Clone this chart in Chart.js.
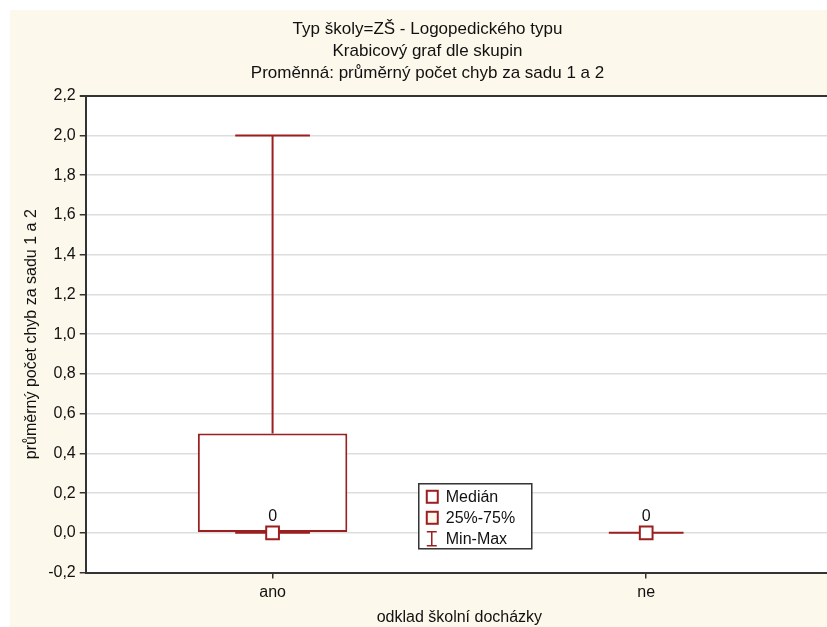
<!DOCTYPE html>
<html>
<head>
<meta charset="utf-8">
<script src="https://cdn.jsdelivr.net/npm/chart.js@4/dist/chart.umd.min.js"></script>
<style>
  html, body { margin: 0; padding: 0; background: #fff; overflow: hidden; }
  #wrap { position: absolute; left: 10px; top: 10px; width: 834px; height: 617px; }
</style>
</head>
<body>
<div id="wrap"><canvas id="box" width="834" height="617"></canvas></div>
<script>
// data
const categories = ['ano', 'ne'];
const q1Values = [0, 0];
const q3Values = [0.5, 0];
const minValues = [0, 0];
const maxValues = [2.0, 0];
const medianValues = [0, 0];
const yTicks = [-0.2, 0, 0.2, 0.4, 0.6, 0.8, 1.0, 1.2, 1.4, 1.6, 1.8, 2.0, 2.2];

const RED = '#9b1f1f';
const CREAM = '#fdf8ec';
const FONT = 'Liberation Sans, Arial, sans-serif';

function fmt(v) {
    return v.toFixed(1).replace('.', ',');
}

// background: cream canvas, white plot area
const backgroundPlugin = {
    id: 'bg',
    beforeDraw(chart) {
        const ctx = chart.ctx;
        const a = chart.chartArea;
        ctx.save();
        ctx.fillStyle = CREAM;
        ctx.fillRect(0, 0, chart.width, chart.height);
        ctx.fillStyle = '#fff';
        ctx.fillRect(a.left, a.top, a.right - a.left, a.bottom - a.top);
        ctx.restore();
    }
};

// whiskers, caps, median labels and the legend box
const boxExtras = {
    id: 'boxExtras',
    beforeDatasetsDraw(chart) {
        const ctx = chart.ctx;
        const x = chart.scales.x, y = chart.scales.y;
        const capHalf = x.width / 2 * 0.1;
        ctx.save();
        ctx.strokeStyle = RED;
        ctx.lineWidth = 2;
        categories.forEach(function(c, i) {
            const cx = x.getPixelForValue(i);
            ctx.beginPath();
            ctx.moveTo(cx, y.getPixelForValue(q3Values[i]));
            ctx.lineTo(cx, y.getPixelForValue(maxValues[i]));
            ctx.moveTo(cx, y.getPixelForValue(q1Values[i]));
            ctx.lineTo(cx, y.getPixelForValue(minValues[i]));
            ctx.moveTo(cx - capHalf, y.getPixelForValue(maxValues[i]));
            ctx.lineTo(cx + capHalf, y.getPixelForValue(maxValues[i]));
            ctx.moveTo(cx - capHalf, y.getPixelForValue(minValues[i]));
            ctx.lineTo(cx + capHalf, y.getPixelForValue(minValues[i]));
            ctx.stroke();
        });
        ctx.restore();
    },
    afterDraw(chart) {
        const ctx = chart.ctx;
        const x = chart.scales.x, y = chart.scales.y;
        const a = chart.chartArea;
        ctx.save();
        // median value labels
        ctx.fillStyle = '#111';
        ctx.font = '16px ' + FONT;
        ctx.textAlign = 'center';
        ctx.textBaseline = 'middle';
        categories.forEach(function(c, i) {
            ctx.fillText(String(medianValues[i]), x.getPixelForValue(i), y.getPixelForValue(medianValues[i]) - 16);
        });

        // legend
        const lx = a.left + 333, ly = a.top + 388, lw = 113, lh = 65;
        ctx.fillStyle = '#fff';
        ctx.fillRect(lx, ly, lw, lh);
        ctx.strokeStyle = '#333';
        ctx.lineWidth = 1.5;
        ctx.strokeRect(lx, ly, lw, lh);

        const labels = ['Medián', '25%-75%', 'Min-Max'];
        ctx.textAlign = 'left';
        ctx.fillStyle = '#111';
        labels.forEach(function(t, k) {
            const my = ly + 13 + k * 21;
            const mx = lx + 13;
            ctx.strokeStyle = RED;
            ctx.lineWidth = 2;
            if (k === 0 || k === 1) {
                ctx.fillStyle = k === 0 ? '#fff' : CREAM;
                ctx.fillRect(mx - 5, my - 6, 11, 12);
                ctx.strokeRect(mx - 5, my - 6, 11, 12);
            } else {
                ctx.lineWidth = 1.5;
                ctx.beginPath();
                ctx.moveTo(mx - 5, my - 7); ctx.lineTo(mx + 5, my - 7);
                ctx.moveTo(mx, my - 7); ctx.lineTo(mx, my + 7);
                ctx.moveTo(mx - 5, my + 7); ctx.lineTo(mx + 5, my + 7);
                ctx.stroke();
            }
            ctx.fillStyle = '#111';
            ctx.fillText(t, mx + 14, my + 1);
        });
        ctx.restore();
    }
};

const boxRanges = categories.map(function(c, i) { return [q1Values[i], q3Values[i]]; });

new Chart(document.getElementById('box'), {
    data: {
        labels: categories,
        datasets: [
            {
                type: 'bar',
                label: '25%-75%',
                order: 2,
                data: boxRanges,
                backgroundColor: '#fff',
                borderColor: RED,
                borderWidth: 2,
                borderSkipped: false,
                categoryPercentage: 1,
                barPercentage: 0.4
            },
            {
                type: 'line',
                label: 'Medián',
                order: 1,
                data: medianValues,
                showLine: false,
                pointStyle: 'rect',
                pointRadius: 9,
                pointBackgroundColor: '#fff',
                pointBorderColor: RED,
                pointBorderWidth: 2
            }
        ]
    },
    options: {
        responsive: false,
        animation: false,
        layout: { padding: { left: 9, right: 8, top: 0, bottom: 0 } },
        plugins: {
            legend: { display: false },
            tooltip: { enabled: false },
            title: {
                display: true,
                text: ['Typ školy=ZŠ - Logopedického typu', 'Krabicový graf dle skupin', 'Proměnná: průměrný počet chyb za sadu 1 a 2'],
                color: '#111',
                font: { family: FONT, size: 17, weight: 'normal', lineHeight: 1.27 },
                padding: { top: 9, bottom: 12 }
            }
        },
        scales: {
            x: {
                type: 'category',
                offset: true,
                border: { color: '#333', width: 2 },
                grid: { drawOnChartArea: false, offset: false, tickLength: 6, tickColor: '#333', lineWidth: 1.5 },
                ticks: { color: '#111', padding: 4, font: { family: FONT, size: 16 } },
                title: { display: true, text: 'odklad školní docházky', color: '#111', padding: { top: 2, bottom: 0 }, font: { family: FONT, size: 16 } }
            },
            y: {
                type: 'linear',
                min: -0.2,
                max: 2.2,
                afterBuildTicks: function(scale) {
                    scale.ticks = yTicks.map(function(v) { return { value: v }; });
                },
                border: { color: '#333', width: 2 },
                grid: {
                    color: function(ctx) { return ctx.tick && Math.abs(ctx.tick.value - 2.2) < 1e-6 ? '#333' : '#dddddd'; },
                    lineWidth: function(ctx) { return ctx.tick && Math.abs(ctx.tick.value - 2.2) < 1e-6 ? 2 : 1.5; },
                    tickLength: 6,
                    tickColor: '#333'
                },
                ticks: {
                    color: '#111',
                    padding: 4,
                    font: { family: FONT, size: 16 },
                    callback: function(v) { return fmt(v); }
                },
                title: { display: true, text: 'průměrný počet chyb za sadu 1 a 2', color: '#111', padding: { top: 3, bottom: 3 }, font: { family: FONT, size: 16 } }
            }
        }
    },
    plugins: [backgroundPlugin, boxExtras]
});
</script>
</body>
</html>
